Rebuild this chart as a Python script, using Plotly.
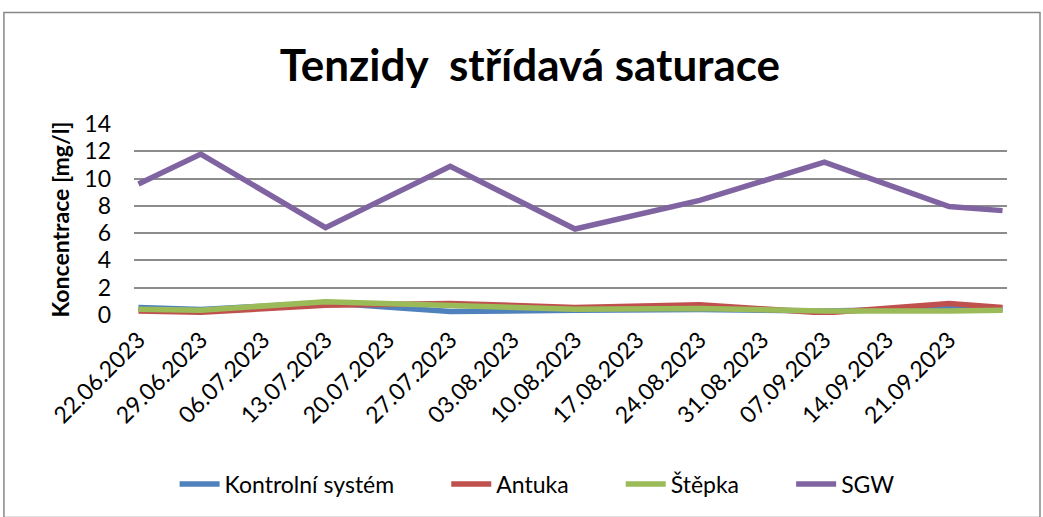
import plotly.graph_objects as go

dates = ["2023-06-22", "2023-06-29", "2023-07-13", "2023-07-27", "2023-08-10",
         "2023-08-24", "2023-09-07", "2023-09-21", "2023-09-27"]
kontrolni = [0.55, 0.4, 0.9, 0.25, 0.35, 0.4, 0.3, 0.45, 0.4]
antuka = [0.3, 0.2, 0.72, 0.85, 0.55, 0.75, 0.15, 0.85, 0.55]
stepka = [0.42, 0.35, 0.97, 0.7, 0.42, 0.47, 0.3, 0.3, 0.35]
sgw = [9.6, 11.8, 6.4, 10.9, 6.3, 8.4, 11.2, 7.95, 7.65]

series_names = ["Kontrolní systém", "Antuka", "Štěpka", "SGW"]
series_values = [kontrolni, antuka, stepka, sgw]
colors = ["#4F81BD", "#C0504D", "#9BBB59", "#8064A2"]

tick_dates = ["2023-06-22", "2023-06-29", "2023-07-06", "2023-07-13", "2023-07-20",
              "2023-07-27", "2023-08-03", "2023-08-10", "2023-08-17", "2023-08-24",
              "2023-08-31", "2023-09-07", "2023-09-14", "2023-09-21"]
tick_labels = ["22.06.2023", "29.06.2023", "06.07.2023", "13.07.2023", "20.07.2023",
               "27.07.2023", "03.08.2023", "10.08.2023", "17.08.2023", "24.08.2023",
               "31.08.2023", "07.09.2023", "14.09.2023", "21.09.2023"]

FONT = "Lato, Carlito, 'Liberation Sans', sans-serif"
PAD = "\u00a0" * 8

fig = go.Figure()
for i, (name, vals, col) in enumerate(zip(series_names, series_values, colors)):
    label = name + (PAD if i < len(series_names) - 1 else "")
    fig.add_trace(go.Scatter(x=dates, y=vals, name=label, mode="lines",
                             line=dict(color=col, width=5.5)))

fig.update_layout(
    width=1043, height=517,
    margin=dict(l=134, r=36, t=124, b=200),
    paper_bgcolor="white", plot_bgcolor="white",
    font=dict(family=FONT, color="black", size=23),
    title=dict(text="<b>Tenzidy  střídavá saturace</b>", x=0.508, xanchor="center",
               y=0.874, yanchor="middle", font=dict(size=44, family=FONT)),
    showlegend=True,
    legend=dict(orientation="h", x=0.0465, xanchor="left", y=-0.885, yanchor="middle",
                font=dict(size=23), itemwidth=40, traceorder="normal"),
    xaxis=dict(type="date", range=["2023-06-21 12:00", "2023-09-27 12:00"],
               tickmode="array", tickvals=tick_dates, ticktext=tick_labels,
               tickangle=-45, showgrid=False, zeroline=False, showline=False,
               ticks="", tickfont=dict(size=23), ticklabelstandoff=6),
    yaxis=dict(range=[0, 14], dtick=2, showgrid=True, gridcolor="#8C8C8C", gridwidth=1.5,
               zeroline=False, showline=False, ticks="", tickfont=dict(size=23),
               ticklabelstandoff=22,
               title=dict(text="<b>Koncentrace [mg/l]</b>", font=dict(size=23), standoff=8)),
)

fig.add_shape(type="rect", xref="paper", yref="paper",
              x0=-0.149, x1=1.0378, y0=-1.06, y1=1.584,
              line=dict(color="#878787", width=1.5), fillcolor="rgba(0,0,0,0)", layer="below")

fig.write_html("out.html", config={"displayModeBar": False},
               post_script="document.body.style.margin='0';")
